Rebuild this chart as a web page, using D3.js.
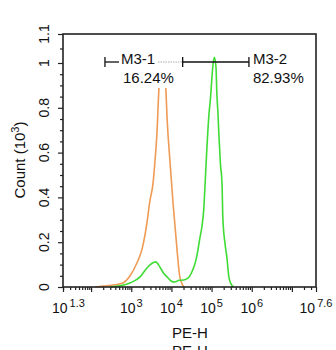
<!DOCTYPE html>
<html><head><meta charset="utf-8">
<script src="https://cdn.jsdelivr.net/npm/d3@7"></script>
<style>
html,body{margin:0;padding:0;background:#fff;}
text{font-family:"Liberation Sans",Arial,sans-serif;fill:#111;}
</style></head>
<body><svg id="c" width="336" height="350"></svg>
<script>
// ---- data (log10 of PE-H, count in thousands) ----
const orangeLog = [2.10,2.30,2.59,2.79,2.97,3.14,3.27,3.39,3.46,3.54,3.59,3.64,3.69,3.74,3.78,3.82,3.86,3.89,3.96,4.04,4.14,4.21,4.31];
const orangeCount = [0,0.004,0.01,0.018,0.05,0.107,0.17,0.286,0.38,0.46,0.56,0.69,0.89,0.99,1.01,0.99,0.89,0.76,0.57,0.375,0.165,0.045,0];
const greenLog = [2.47,2.72,2.97,3.22,3.39,3.51,3.61,3.71,3.81,3.89,3.99,4.09,4.19,4.26,4.41,4.53,4.61,4.66,4.71,4.76,4.81,4.83,4.88,4.93,4.98,5.01,5.04,5.07,5.11,5.13,5.16,5.18,5.22,5.26,5.28,5.33,5.38,5.43,5.48,5.55];
const greenCount = [0,0.005,0.018,0.045,0.085,0.105,0.112,0.09,0.06,0.045,0.027,0.022,0.03,0.03,0.04,0.076,0.12,0.165,0.22,0.27,0.36,0.43,0.61,0.76,0.86,0.94,1.0,1.02,0.98,0.87,0.77,0.686,0.55,0.46,0.31,0.2,0.134,0.045,0.015,0];
const xTickExp = [1.3,3,4,5,6,7.6];
const xMajorExp = [1.3,2,3,4,5,6,7,7.6];
const yTicks = [0,0.2,0.4,0.6,0.8,1,1.1];
const yMinor = [0.05,0.1,0.15,0.25,0.3,0.35,0.45,0.5,0.55,0.65,0.7,0.75,0.85,0.9,0.95,1.05];
const gates = [
  {name:"M3-1", pct:"16.24%", from:2.345, to:4.28},
  {name:"M3-2", pct:"82.93%", from:4.28, to:5.93}
];

const svg = d3.select("#c");
const L=63, R=316, T=34, B=287;
const x = d3.scaleLog().domain([10**1.3, 10**7.6]).range([L,R]);
const y = d3.scaleLinear().domain([0,1,1.1]).range([B,63,T]);

// minor x ticks
const xMinor = [];
for (let d=1; d<=7; d++) for (let m=2; m<=9; m++){ const v=m*10**d; if (v>10**1.3 && v<10**7.6) xMinor.push(v); }

const line = d3.line().x(d=>x(10**d[0])).y(d=>y(d[1])).curve(d3.curveMonotoneX);
svg.append("path").datum(orangeLog.map((v,i)=>[v,orangeCount[i]]))
  .attr("d",line).attr("fill","none").attr("stroke","#ef9b55").attr("stroke-width",1.6);
svg.append("path").datum(greenLog.map((v,i)=>[v,greenCount[i]]))
  .attr("d",line).attr("fill","none").attr("stroke","#3fdc35").attr("stroke-width",1.6);

// label backgrounds
svg.append("rect").attr("x",119).attr("y",48).attr("width",57).attr("height",40).attr("fill","#fff");

// gates
const gy = 62;
const g0 = gates[0], g1 = gates[1];
svg.append("line").attr("x1",x(10**g0.from)).attr("x2",119).attr("y1",gy).attr("y2",gy).attr("stroke","#111").attr("stroke-width",1.3);
svg.append("line").attr("x1",158).attr("x2",x(10**g0.to)).attr("y1",gy).attr("y2",gy).attr("stroke","#aaa").attr("stroke-width",1).attr("stroke-dasharray","1.5,1");
svg.append("line").attr("x1",x(10**g1.from)).attr("x2",x(10**g1.to)).attr("y1",gy).attr("y2",gy).attr("stroke","#111").attr("stroke-width",1.3);
[g0.from,g0.to,g1.to].forEach(v=>{
  svg.append("line").attr("x1",x(10**v)).attr("x2",x(10**v)).attr("y1",gy-5).attr("y2",gy+5).attr("stroke","#111").attr("stroke-width",1.3);
});
gates.forEach((g,i)=>{
  const tx = i===0 ? 121 : x(10**g.to)+4;
  svg.append("text").attr("x",tx).attr("y",64).attr("font-size",15).text(g.name);
  svg.append("text").attr("x",tx+ (i===0?2:0)).attr("y",83).attr("font-size",15).text(g.pct);
});

// axes
const ax = svg.append("g").attr("transform",`translate(0,${B})`);
ax.call(d3.axisBottom(x).tickValues(xMajorExp.map(e=>10**e)).tickSize(5).tickFormat(""));
ax.append("g").call(d3.axisBottom(x).tickValues(xMinor).tickSize(3).tickFormat(""));
const ay = svg.append("g").attr("transform",`translate(${L},0)`);
ay.call(d3.axisLeft(y).tickValues(yTicks).tickSize(5).tickFormat(""));
ay.append("g").call(d3.axisLeft(y).tickValues(yMinor).tickSize(3).tickFormat(""));
svg.selectAll(".domain").remove();
svg.selectAll(".tick line").attr("stroke","#222").attr("stroke-width",1.2);

// frame
svg.append("rect").attr("x",L).attr("y",T).attr("width",R-L).attr("height",B-T)
  .attr("fill","none").attr("stroke","#222").attr("stroke-width",1.6);

// x tick labels
xTickExp.forEach((e,i)=>{
  const t = svg.append("text").attr("y",313).attr("font-size",14)
    .attr("x", i===0 ? x(10**e)-11 : x(10**e))
    .attr("text-anchor", i===0 ? "start" : "middle");
  t.append("tspan").text("10");
  t.append("tspan").attr("dy",-6).attr("font-size",11).attr("dx",i===0||i===5?2:1).text(String(e));
});

// y tick labels
yTicks.forEach(v=>{
  svg.append("text").attr("transform",`translate(49,${y(v)}) rotate(-90)`)
    .attr("text-anchor","middle").attr("font-size",14).text(String(v));
});

// axis titles
const yt = svg.append("text").attr("transform","translate(25,160) rotate(-90)").attr("text-anchor","middle").attr("font-size",15);
yt.append("tspan").text("Count  (10");
yt.append("tspan").attr("dy",-6).attr("font-size",11).text("3");
yt.append("tspan").attr("dy",6).text(")");
svg.append("text").attr("x",190).attr("y",338).attr("text-anchor","middle").attr("font-size",15).text("PE-H");
svg.append("text").attr("x",190).attr("y",356).attr("text-anchor","middle").attr("font-size",15).text("PE-H");
</script></body></html>
